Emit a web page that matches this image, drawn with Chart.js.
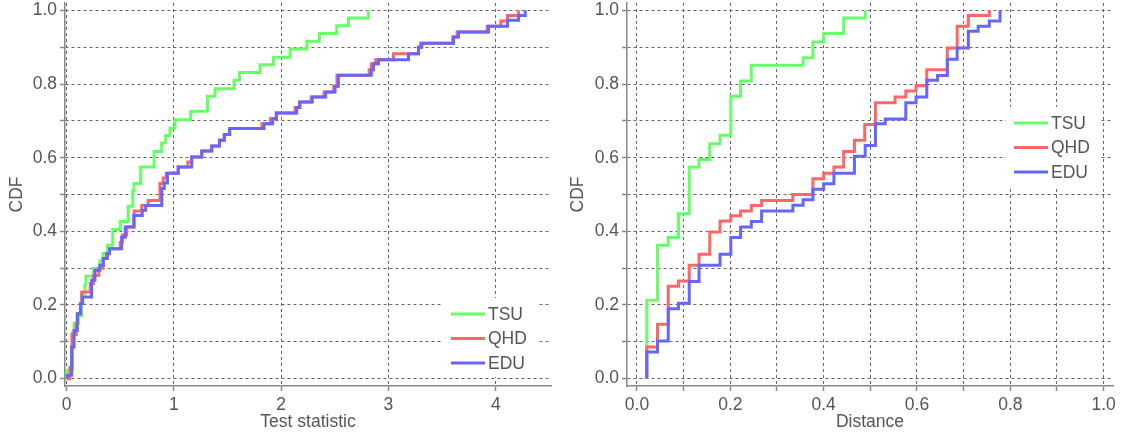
<!DOCTYPE html>
<html>
<head>
<meta charset="utf-8">
<script src="https://cdn.jsdelivr.net/npm/chart.js@4"></script>
<style>
  html, body { margin: 0; padding: 0; background: #fff; }
  .wrap { display: flex; width: 1126px; height: 438px; }
  .panel { position: relative; width: 563px; height: 438px; }
</style>
</head>
<body>
<div class="wrap">
  <div class="panel"><canvas id="left"></canvas></div>
  <div class="panel"><canvas id="right"></canvas></div>
</div>
<script>
const seriesNames = ['TSU', 'QHD', 'EDU'];
const seriesColors = ['rgb(102,255,102)', 'rgb(255,102,102)', 'rgb(102,102,255)'];

// left panel: CDF of test statistic
const statTsuX = [0.0, 0.0, 0.056, 0.07, 0.11, 0.14, 0.17, 0.18, 0.25, 0.31, 0.34, 0.38, 0.43, 0.50, 0.575, 0.616, 0.628, 0.69, 0.815, 0.886, 0.924, 0.964, 1.011, 1.157, 1.313, 1.384, 1.561, 1.611, 1.804, 1.928, 2.084, 2.24, 2.356, 2.518, 2.627, 2.813];
const statTsuY = [0, 0.023, 0.127, 0.15, 0.17, 0.23, 0.255, 0.278, 0.30, 0.32, 0.34, 0.362, 0.405, 0.427, 0.468, 0.51, 0.53, 0.575, 0.617, 0.64, 0.66, 0.68, 0.703, 0.726, 0.767, 0.787, 0.81, 0.831, 0.852, 0.873, 0.895, 0.916, 0.937, 0.958, 0.979, 1.0];
const statQhdX = [0.0, 0.03, 0.05, 0.09, 0.10, 0.13, 0.14, 0.22, 0.25, 0.30, 0.34, 0.37, 0.40, 0.50, 0.52, 0.56, 0.63, 0.70, 0.76, 0.87, 0.90, 0.93, 1.04, 1.13, 1.166, 1.26, 1.353, 1.425, 1.47, 1.52, 1.82, 1.90, 1.955, 2.13, 2.17, 2.28, 2.40, 2.49, 2.52, 2.82, 2.84, 2.88, 3.047, 3.28, 3.30, 3.60, 3.64, 3.92, 4.048, 4.11, 4.213];
const statQhdY = [0, 0.03, 0.12, 0.15, 0.176, 0.204, 0.235, 0.258, 0.28, 0.30, 0.326, 0.34, 0.353, 0.37, 0.39, 0.412, 0.455, 0.47, 0.484, 0.53, 0.545, 0.558, 0.575, 0.588, 0.602, 0.618, 0.632, 0.647, 0.663, 0.679, 0.692, 0.706, 0.721, 0.736, 0.751, 0.765, 0.778, 0.794, 0.824, 0.839, 0.855, 0.866, 0.882, 0.90, 0.911, 0.928, 0.941, 0.957, 0.971, 0.986, 1.0];
const statEduX = [0.006, 0.006, 0.047, 0.07, 0.10, 0.13, 0.15, 0.233, 0.264, 0.31, 0.342, 0.38, 0.40, 0.513, 0.547, 0.626, 0.705, 0.737, 0.887, 0.91, 0.94, 1.04, 1.166, 1.26, 1.353, 1.425, 1.47, 1.52, 1.84, 1.92, 1.955, 2.145, 2.175, 2.29, 2.415, 2.502, 2.533, 2.84, 2.86, 2.907, 3.187, 3.28, 3.311, 3.607, 3.653, 3.933, 4.11, 4.213, 4.275];
const statEduY = [0, 0.009, 0.086, 0.131, 0.176, 0.204, 0.222, 0.267, 0.294, 0.308, 0.326, 0.339, 0.353, 0.384, 0.412, 0.443, 0.457, 0.47, 0.516, 0.531, 0.558, 0.575, 0.602, 0.618, 0.632, 0.647, 0.663, 0.679, 0.692, 0.706, 0.721, 0.736, 0.751, 0.765, 0.778, 0.794, 0.824, 0.839, 0.855, 0.866, 0.882, 0.90, 0.911, 0.928, 0.941, 0.957, 0.973, 0.986, 1.0];

// right panel: CDF of distance
const distTsuX = [0.021, 0.021, 0.044, 0.067, 0.089, 0.112, 0.133, 0.156, 0.178, 0.201, 0.222, 0.245, 0.356, 0.377, 0.400, 0.443, 0.489];
const distTsuY = [0, 0.213, 0.362, 0.383, 0.448, 0.575, 0.595, 0.638, 0.661, 0.767, 0.808, 0.851, 0.871, 0.914, 0.937, 0.979, 1.0];
const distQhdX = [0.021, 0.021, 0.044, 0.067, 0.089, 0.112, 0.133, 0.156, 0.178, 0.201, 0.222, 0.245, 0.267, 0.334, 0.377, 0.400, 0.422, 0.443, 0.466, 0.488, 0.511, 0.553, 0.576, 0.598, 0.621, 0.665, 0.686, 0.710, 0.755];
const distQhdY = [0, 0.086, 0.148, 0.251, 0.265, 0.308, 0.338, 0.398, 0.428, 0.442, 0.455, 0.470, 0.484, 0.500, 0.543, 0.558, 0.575, 0.617, 0.647, 0.690, 0.749, 0.765, 0.781, 0.795, 0.839, 0.898, 0.957, 0.986, 1.0];
const distEduX = [0.021, 0.021, 0.044, 0.067, 0.089, 0.112, 0.133, 0.178, 0.201, 0.222, 0.245, 0.267, 0.334, 0.356, 0.377, 0.400, 0.422, 0.466, 0.489, 0.511, 0.532, 0.576, 0.598, 0.621, 0.644, 0.665, 0.686, 0.710, 0.731, 0.755, 0.778];
const distEduY = [0, 0.072, 0.102, 0.190, 0.205, 0.264, 0.308, 0.338, 0.383, 0.412, 0.427, 0.455, 0.471, 0.486, 0.514, 0.529, 0.558, 0.604, 0.633, 0.692, 0.705, 0.749, 0.765, 0.810, 0.823, 0.867, 0.898, 0.943, 0.957, 0.971, 1.0];

const textColor = '#555';
const font = { family: '"Liberation Sans", Arial, sans-serif', size: 17.5 };

function toPoints(xs, ys) {
    return xs.map((x, i) => ({ x: x, y: ys[i] }));
}

// labels only on every second 0.1 tick
function everyOther(v) {
    const k = Math.round(v * 10);
    return k % 2 === 0 ? (k / 10).toFixed(1) : '';
}

// legend drawn inside the plot with a white box
const innerLegend = {
    id: 'innerLegend',
    beforeDatasetsDraw(chart, args, opts) {
        const ctx = chart.ctx;
        ctx.save();
        ctx.fillStyle = '#fff';
        ctx.fillRect(opts.x - 8, opts.y - 16, 94, 79);
        chart.data.datasets.forEach((ds, i) => {
            const y = opts.y + i * 24.5;
            ctx.strokeStyle = ds.borderColor;
            ctx.lineWidth = 3;
            ctx.beginPath();
            ctx.moveTo(opts.x, y);
            ctx.lineTo(opts.x + 34, y);
            ctx.stroke();
            ctx.fillStyle = textColor;
            ctx.font = font.size + 'px ' + font.family;
            ctx.textBaseline = 'middle';
            ctx.fillText(ds.label, opts.x + 37, y + 1);
        });
        ctx.restore();
    }
};

function buildChart(id, series, cfg) {
    const datasets = series.map((s, i) => ({
        label: seriesNames[i],
        data: toPoints(s[0], s[1]),
        borderColor: seriesColors[i],
        borderWidth: 3,
        pointRadius: 0,
        stepped: true,
        fill: false,
        order: 2 - i
    }));

    const gridOpts = { color: '#666', lineWidth: 1, tickLength: 5, tickColor: '#888', tickWidth: 1.5 };
    const borderOpts = { color: '#888', width: 1.5, dash: [3, 3] };

    return new Chart(document.getElementById(id), {
        type: 'line',
        data: { datasets: datasets },
        plugins: [innerLegend],
        options: {
            responsive: true,
            maintainAspectRatio: false,
            animation: false,
            events: [],
            layout: { padding: { left: 0, right: cfg.padRight, top: 3, bottom: 0 } },
            plugins: {
                legend: { display: false },
                tooltip: { enabled: false },
                innerLegend: cfg.legend
            },
            scales: {
                x: {
                    type: 'linear',
                    min: cfg.xMin,
                    max: cfg.xMax,
                    ticks: {
                        stepSize: cfg.xStep,
                        includeBounds: false,
                        autoSkip: false,
                        maxRotation: 0,
                        color: textColor,
                        font: font,
                        padding: 4,
                        callback: cfg.xLabel
                    },
                    grid: gridOpts,
                    border: borderOpts,
                    title: { display: true, text: cfg.xTitle, color: textColor, font: font, padding: { top: 0, bottom: 5 } },
                    afterFit: s => { s.height = 52; s.paddingLeft = 0; s.paddingRight = 0; }
                },
                y: {
                    type: 'linear',
                    min: -0.02,
                    max: 1.02,
                    ticks: {
                        stepSize: 0.1,
                        includeBounds: false,
                        autoSkip: false,
                        color: textColor,
                        font: font,
                        padding: 3,
                        callback: everyOther
                    },
                    grid: gridOpts,
                    border: borderOpts,
                    title: { display: true, text: 'CDF', color: textColor, font: font, padding: { top: cfg.yTitlePad, bottom: 0 } },
                    afterFit: s => { s.width = cfg.yWidth; s.paddingTop = 0; s.paddingBottom = 0; }
                }
            }
        }
    });
}

buildChart('left', [[statTsuX, statTsuY], [statQhdX, statQhdY], [statEduX, statEduY]], {
    xMin: -0.015, xMax: 4.515, xStep: 1,
    xLabel: v => String(Math.round(v)),
    xTitle: 'Test statistic',
    padRight: 12, yWidth: 65, yTitlePad: 7,
    legend: { x: 451, y: 314 }
});

buildChart('right', [[distTsuX, distTsuY], [distQhdX, distQhdY], [distEduX, distEduY]], {
    xMin: -0.0214, xMax: 1.02, xStep: 0.1,
    xLabel: everyOther,
    xTitle: 'Distance',
    padRight: 13, yWidth: 64, yTitlePad: 5,
    legend: { x: 451, y: 123 }
});
</script>
</body>
</html>
